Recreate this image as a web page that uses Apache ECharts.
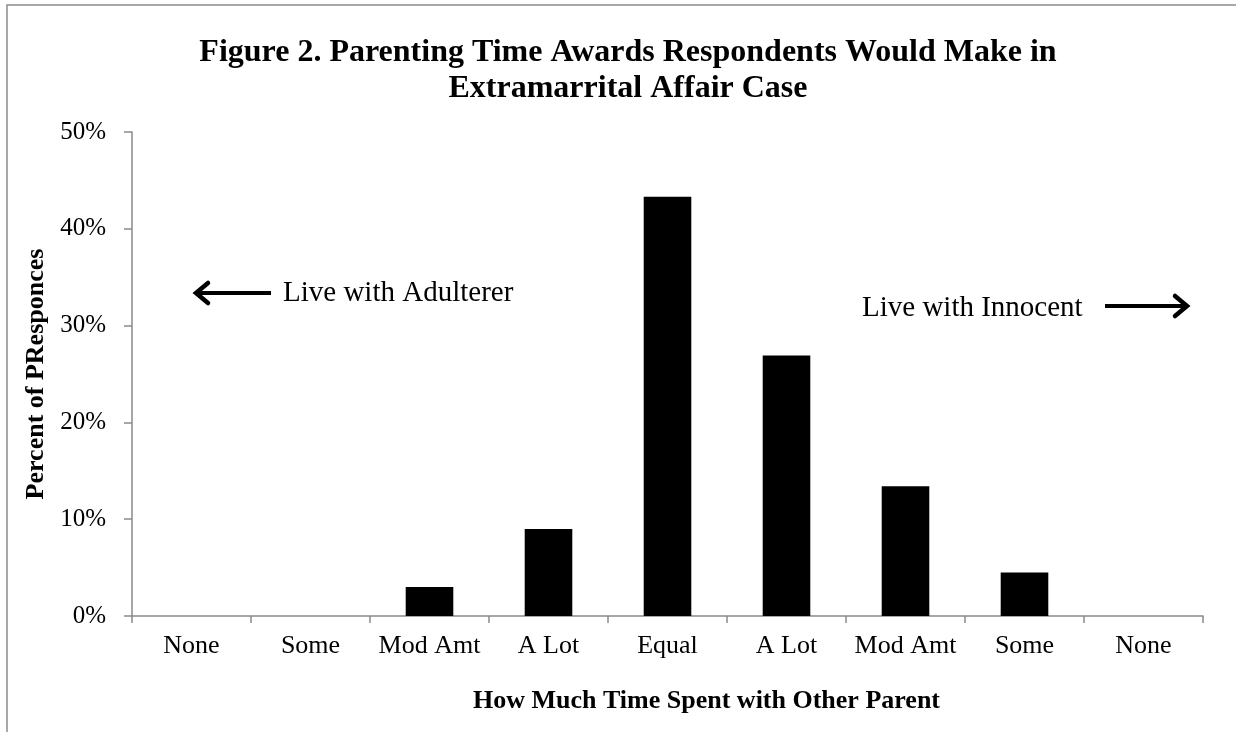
<!DOCTYPE html>
<html>
<head>
<meta charset="utf-8">
<script src="https://cdn.jsdelivr.net/npm/echarts@6/dist/echarts.min.js"></script>
<style>
  html, body { margin: 0; padding: 0; background: #fff; }
  #main { width: 1236px; height: 732px; }
</style>
</head>
<body>
<div id="main"></div>
<script>
// categories along the x axis (adulterer side -> equal -> innocent side)
var categories = ['None', 'Some', 'Mod Amt', 'A Lot', 'Equal', 'A Lot', 'Mod Amt', 'Some', 'None'];
// share of responses (fraction)
var responses = [0, 0, 0.030, 0.090, 0.433, 0.269, 0.134, 0.045, 0];
var yTicks = [0, 0.1, 0.2, 0.3, 0.4, 0.5];

var serif = '"Liberation Serif", "DejaVu Serif", serif';
var axisGray = '#8a8a8a';

var chart = echarts.init(document.getElementById('main'));

var option = {
    backgroundColor: '#fff',
    animation: false,
    title: {
        text: 'Figure 2. Parenting Time Awards Respondents Would Make in\nExtramarrital Affair Case',
        left: 623,
        top: 30,
        textAlign: 'center',
        textStyle: {
            fontFamily: serif,
            fontWeight: 'bold',
            fontSize: 32,
            lineHeight: 36,
            color: '#000'
        }
    },
    grid: { left: 132, right: 33, top: 132, bottom: 116 },
    xAxis: {
        type: 'category',
        data: categories,
        name: 'How Much Time Spent with Other Parent',
        nameLocation: 'middle',
        nameGap: 72,
        nameTextStyle: {
            fontFamily: serif, fontWeight: 'bold', fontSize: 26, color: '#000',
            padding: [0, 0, 0, 78]
        },
        axisLine: { lineStyle: { color: axisGray, width: 1.5 } },
        axisTick: { show: true, interval: 0, length: 7, lineStyle: { color: axisGray, width: 1.5 } },
        axisLabel: { interval: 0, fontFamily: serif, fontSize: 26, color: '#000', margin: 17 },
        splitLine: { show: false }
    },
    yAxis: {
        type: 'value',
        min: 0,
        max: yTicks[yTicks.length - 1],
        interval: 0.1,
        name: 'Percent of PResponces',
        nameLocation: 'middle',
        nameGap: 78,
        nameTextStyle: { fontFamily: serif, fontWeight: 'bold', fontSize: 26, color: '#000' },
        axisLine: { show: true, lineStyle: { color: axisGray, width: 1.5 } },
        axisTick: { show: true, length: 8, lineStyle: { color: axisGray, width: 1.5 } },
        axisLabel: {
            fontFamily: serif, fontSize: 25, color: '#000', margin: 26,
            formatter: function (v) { return Math.round(v * 100) + '%'; }
        },
        splitLine: { show: false }
    },
    series: [{
        type: 'bar',
        data: responses,
        barCategoryGap: '60%',
        itemStyle: { color: '#000' }
    }],
    graphic: [
        // outer frame: only the top and left edges fall inside the picture
        {
            type: 'polyline', silent: true,
            shape: { points: [[7, 740], [7, 5], [1240, 5]] },
            style: { fill: null, stroke: '#8c8c8c', lineWidth: 1.5 }
        },
        // left annotation
        {
            type: 'line',
            shape: { x1: 197, y1: 293, x2: 271, y2: 293 },
            style: { stroke: '#000', lineWidth: 4 }
        },
        {
            type: 'polyline',
            shape: { points: [[208, 283], [196, 293], [208, 303]] },
            style: { stroke: '#000', lineWidth: 4.5, fill: null, lineCap: 'round', lineJoin: 'miter' }
        },
        {
            type: 'text', left: 283, top: 293 - 14,
            style: { text: 'Live with Adulterer', font: '29px ' + serif, fill: '#000' }
        },
        // right annotation
        {
            type: 'text', left: 862, top: 308 - 14,
            style: { text: 'Live with Innocent', font: '29px ' + serif, fill: '#000' }
        },
        {
            type: 'line',
            shape: { x1: 1105, y1: 306, x2: 1186, y2: 306 },
            style: { stroke: '#000', lineWidth: 4 }
        },
        {
            type: 'polyline',
            shape: { points: [[1175, 296], [1187, 306], [1175, 316]] },
            style: { stroke: '#000', lineWidth: 4.5, fill: null, lineCap: 'round', lineJoin: 'miter' }
        }
    ]
};

chart.setOption(option);
</script>
</body>
</html>
